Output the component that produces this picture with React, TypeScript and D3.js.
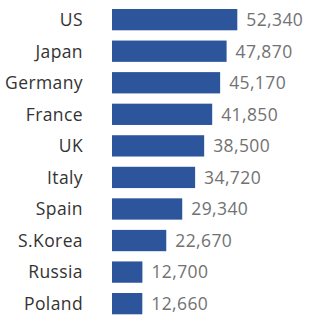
import React from 'react';
import { scaleBand, scaleLinear, format } from 'd3';

const countries = ['US', 'Japan', 'Germany', 'France', 'UK', 'Italy', 'Spain', 'S.Korea', 'Russia', 'Poland'];
const values = [52340, 47870, 45170, 41850, 38500, 34720, 29340, 22670, 12700, 12660];

const W = 315;
const H = 323;

const App = () => {
  const y = scaleBand<string>()
    .domain(countries)
    .range([9, 314.3])
    .paddingInner(0.325)
    .paddingOuter(0);

  const x = scaleLinear().domain([0, 52340]).range([112, 237.3]);
  const fmt = format(',');

  return (
    <svg
      width={W}
      height={H}
      style={{ position: 'absolute', left: 0, top: 0, background: '#fff' }}
      fontFamily="'Open Sans', sans-serif"
    >
      {countries.map((c, i) => {
        const yc = (y(c) as number) + y.bandwidth() / 2;
        return (
          <g key={c}>
            <text x={83} y={yc} dy="0.36em" textAnchor="end" fontSize={17.5} letterSpacing={0.4} fill="#333">
              {c}
            </text>
            <rect
              x={x(0)}
              y={y(c)}
              width={x(values[i]) - x(0)}
              height={y.bandwidth()}
              fill="#2c559b"
            />
            <text x={x(values[i]) + 9} y={yc} dy="0.36em" fontSize={17.5} letterSpacing={0.4} fill="#727272">
              {fmt(values[i])}
            </text>
          </g>
        );
      })}
    </svg>
  );
};

export default App;
